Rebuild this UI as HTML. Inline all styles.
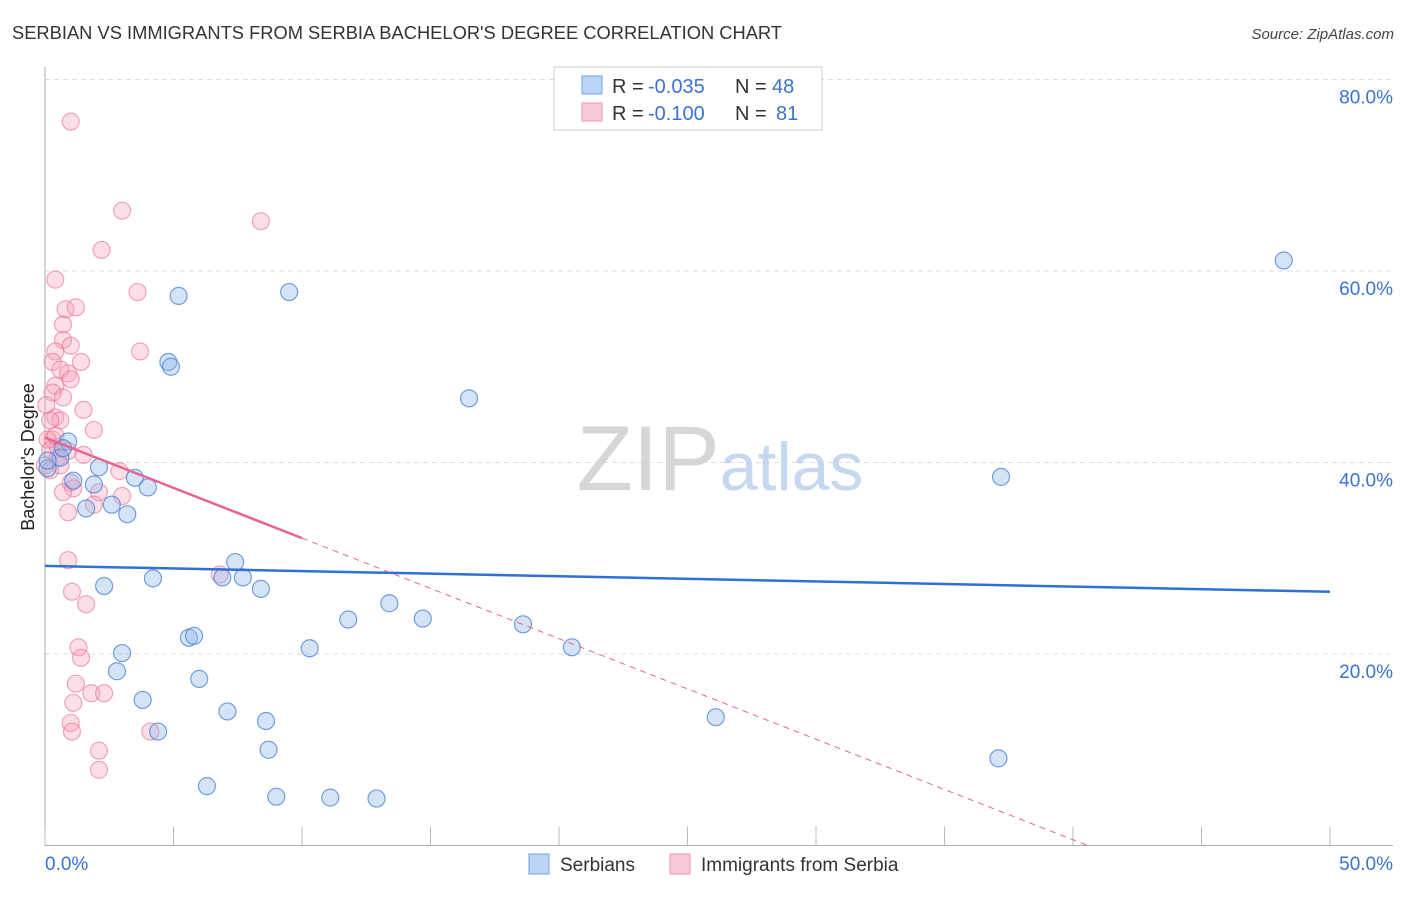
<!DOCTYPE html>
<html><head><meta charset="utf-8">
<style>
body{margin:0;background:#fff;font-family:"Liberation Sans",sans-serif;}
svg text{font-family:"Liberation Sans",sans-serif;}
</style></head>
<body>
<svg id="chart" width="1406" height="892" viewBox="0 0 1406 892" xmlns="http://www.w3.org/2000/svg">
<text x="12" y="39" font-size="18.2" fill="#333" textLength="770" lengthAdjust="spacingAndGlyphs">SERBIAN VS IMMIGRANTS FROM SERBIA BACHELOR'S DEGREE CORRELATION CHART</text>
<text x="1394" y="39" font-size="15" fill="#444" font-style="italic" text-anchor="end">Source: ZipAtlas.com</text>
<g id="grid"></g>
<text x="720" y="490" font-size="92" text-anchor="middle" fill="#d6d6d6" font-family="Liberation Serif,serif">ZIP<tspan fill="#c6d8f0" font-family="Liberation Sans,sans-serif" font-size="68">atlas</tspan></text>
<text transform="translate(34,457) rotate(-90)" font-size="18" fill="#222" text-anchor="middle">Bachelor's Degree</text>
<g id="points"></g>
<g id="lines"></g>
<g>
<rect x="554" y="67" width="268" height="63" fill="#fff" stroke="#ccc"/>
<rect x="582" y="76" width="20" height="18" fill="#bcd4f5" stroke="#6f9fe0"/>
<rect x="582" y="103" width="20" height="18" fill="#fbcad8" stroke="#ee93ad"/>
<text x="612" y="93" font-size="20" fill="#333">R =</text>
<text x="648" y="93" font-size="20" fill="#3a73d2">-0.035</text>
<text x="735" y="93" font-size="20" fill="#333">N =</text>
<text x="772" y="93" font-size="20" fill="#3a73d2">48</text>
<text x="612" y="120" font-size="20" fill="#333">R =</text>
<text x="648" y="120" font-size="20" fill="#3a73d2">-0.100</text>
<text x="735" y="120" font-size="20" fill="#333">N =</text>
<text x="776" y="120" font-size="20" fill="#3a73d2">81</text>
</g>
<g>
<rect x="529" y="854" width="20" height="20" fill="#bcd4f5" stroke="#6f9fe0"/>
<text x="560" y="871" font-size="19" fill="#333">Serbians</text>
<rect x="670" y="854" width="20" height="20" fill="#fbcad8" stroke="#ee93ad"/>
<text x="701" y="871" font-size="19" fill="#333">Immigrants from Serbia</text>
</g>
<text x="45" y="870" font-size="19" fill="#3a73d2">0.0%</text>
<text x="1393" y="870" font-size="19" fill="#3a73d2" text-anchor="end">50.0%</text>
</svg>
<script>
const yTicks=[20,40,60,80];
const yTickLabels=["20.0%","40.0%","60.0%","80.0%"];
const xTicks=[0,5,10,15,20,25,30,35,40,45,50];
const serbiansX=[48.2,5.2,9.5,4.8,4.9,16.5,37.2,0.9,0.6,2.1,1.1,1.9,3.5,4.0,2.6,1.6,3.2,0.1,7.4,4.2,2.3,8.4,6.9,7.7,13.4,11.8,14.7,18.6,5.6,5.8,10.3,20.5,3.0,2.8,6.0,3.8,26.1,7.1,8.6,4.4,8.7,37.1,6.3,9.0,11.1,12.9,0.7,0.1];
const serbiansY=[61.1,57.4,57.8,50.5,50.0,46.7,38.5,42.2,40.5,39.5,38.1,37.7,38.4,37.4,35.6,35.2,34.6,39.4,29.6,27.9,27.1,26.8,28.0,28.0,25.3,23.6,23.7,23.1,21.7,21.9,20.6,20.7,20.1,18.2,17.4,15.2,13.4,14.0,13.0,11.9,10.0,9.1,6.2,5.1,5.0,4.9,41.5,40.2];
const immX=[1.0,3.0,8.4,2.2,0.4,3.6,0.8,1.2,0.7,0.7,1.0,0.4,0.3,1.4,0.6,0.9,1.0,0.4,0.3,0.7,1.5,0.4,0.6,1.9,0.3,0.5,0.9,1.5,0.5,0.2,0.6,2.9,1.0,2.1,1.1,0.7,3.0,1.9,0.9,3.7,0.9,6.8,1.05,1.6,1.3,1.4,1.2,1.1,1.8,2.3,1.0,1.05,4.1,2.1,2.1,0.0,0.1,0.2,0.05,0.2,0.4];
const immY=[75.6,66.3,65.2,62.2,59.1,57.8,56.0,56.2,54.4,52.8,52.2,51.6,50.5,50.5,49.7,49.3,48.7,48.0,47.3,46.8,45.5,44.7,44.4,43.4,42.4,41.6,41.2,40.8,40.5,39.2,39.7,39.1,37.9,36.9,37.3,36.9,36.5,35.6,34.8,51.6,29.8,28.3,26.5,25.2,20.7,19.6,16.9,14.9,15.9,15.9,12.8,11.9,11.9,9.9,7.9,39.7,42.4,41.3,46.0,44.4,42.8];
const blueFit=[29.2,26.5];
const pinkFit=[42.6,-1.05];
const svg=document.getElementById('chart');
const NS='http://www.w3.org/2000/svg';
const X=v=>45+25.7*v;
const Y=v=>845.5-9.575*v;
function mk(tag,attrs,parent){const e=document.createElementNS(NS,tag);for(const k in attrs)e.setAttribute(k,attrs[k]);parent.appendChild(e);return e;}
const grid=document.getElementById('grid');
yTicks.forEach((t,i)=>{
 const l=mk('line',{x1:45,x2:1393,y1:Y(t),y2:Y(t),stroke:'#ddd','stroke-dasharray':'5,4'},grid);
 
 
 const tx=mk('text',{x:1393,y:Y(t)+24,'font-size':19,fill:'#3a73d2','text-anchor':'end'},grid);
 tx.textContent=yTickLabels[i];
 
 
});
const ax=mk('path',{d:`M45 67 V${Y(0)} H1393`,stroke:'#aaa',fill:'none'},grid);


xTicks.forEach(t=>{
 const l=mk('line',{x1:X(t),x2:X(t),y1:Y(0),y2:Y(0)-19,stroke:'#bbb'},grid);
 
 
});
const pts=document.getElementById('points');
immX.forEach((v,i)=>{
 const c=mk('circle',{cx:X(v),cy:Y(immY[i]),r:8.5,fill:'rgba(246,160,185,0.35)',stroke:'rgba(232,110,145,0.6)','stroke-width':1.2},pts);
 
 
});
serbiansX.forEach((v,i)=>{
 const c=mk('circle',{cx:X(v),cy:Y(serbiansY[i]),r:8.5,fill:'rgba(150,185,235,0.4)',stroke:'rgba(70,130,215,0.75)','stroke-width':1.2},pts);
 
 
});
const ln=document.getElementById('lines');
let b=mk('line',{x1:X(0),y1:Y(blueFit[0]),x2:X(50),y2:Y(blueFit[1]),stroke:'#2f6fd6','stroke-width':2.5},ln);


const pf=x=>pinkFit[0]+pinkFit[1]*x;
let p=mk('line',{x1:X(0),y1:Y(pf(0)),x2:X(10),y2:Y(pf(10)),stroke:'#e8648f','stroke-width':2.5},ln);


const xe=-pinkFit[0]/pinkFit[1];
let pd=mk('line',{x1:X(10),y1:Y(pf(10)),x2:X(xe),y2:Y(0),stroke:'#e8648f','stroke-width':1,'stroke-dasharray':'6,5'},ln);


</script>
</body></html>
